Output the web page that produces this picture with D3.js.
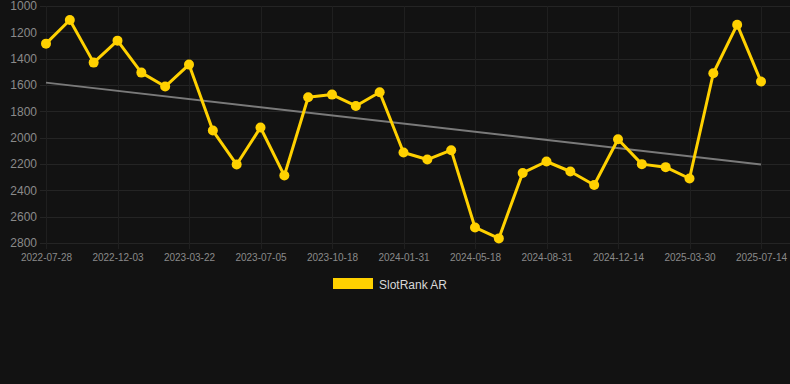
<!DOCTYPE html>
<html><head><meta charset="utf-8">
<script src="https://cdn.jsdelivr.net/npm/d3@7"></script>
<style>html,body{margin:0;padding:0;background:#121212;}svg{display:block;}</style>
</head><body><svg id="c" width="790" height="384"></svg>
<script>
const categories = ["2022-07-28","2022-09-09","2022-10-21","2022-12-03","2023-01-08","2023-02-14","2023-03-22","2023-04-26","2023-05-31","2023-07-05","2023-08-09","2023-09-13","2023-10-18","2023-11-22","2023-12-27","2024-01-31","2024-03-06","2024-04-12","2024-05-18","2024-06-22","2024-07-27","2024-08-31","2024-10-05","2024-11-09","2024-12-14","2025-01-18","2025-02-22","2025-03-30","2025-05-04","2025-06-08","2025-07-14"];
const rankValues = [1286,1106,1430,1263,1506,1612,1445,1946,2204,1923,2288,1693,1673,1759,1655,2113,2166,2095,2682,2765,2268,2181,2257,2360,2012,2201,2224,2310,1511,1142,1574];
const trendValues = [1582,2204];
const yTicks = [1000,1200,1400,1600,1800,2000,2200,2400,2600,2800];
const xTickLabels = ["2022-07-28","2022-12-03","2023-03-22","2023-07-05","2023-10-18","2024-01-31","2024-05-18","2024-08-31","2024-12-14","2025-03-30","2025-07-14"];
const seriesName = "SlotRank AR";

const svg = d3.select("#c");
const W = 790, H = 384;
svg.append("rect").attr("width",W).attr("height",H).attr("fill","#121212");
const mLeft = 46, mRight = 761, mTop = 6, mBottom = 243;
const x = d3.scalePoint().domain(categories).range([mLeft,mRight]);
const y = d3.scaleLinear().domain([1000,2800]).range([mTop,mBottom]);

const grid = svg.append("g");
grid.selectAll("line.h").data(yTicks).join("line")
  .attr("x1",40).attr("x2",W).attr("y1",d=>Math.round(y(d))+0.5).attr("y2",d=>Math.round(y(d))+0.5)
  .attr("stroke","#242424").attr("stroke-width",1);
grid.selectAll("line.v").data(xTickLabels).join("line")
  .attr("x1",d=>Math.round(x(d))+0.5).attr("x2",d=>Math.round(x(d))+0.5).attr("y1",mTop).attr("y2",mBottom+6)
  .attr("stroke","#1f1f1f").attr("stroke-width",1);

const yAxis = d3.axisLeft(y).tickValues(yTicks).tickSize(0).tickPadding(0).tickFormat(d3.format("d"));
const ya = svg.append("g").attr("transform","translate(37,0)").call(yAxis);
ya.select(".domain").remove();
ya.selectAll("text").attr("fill","#8a8a8a").style("font-family","Arial, Liberation Sans, sans-serif").style("font-size","12px");

const xAxis = d3.axisBottom(x).tickValues(xTickLabels).tickSize(0).tickPadding(0);
const xa = svg.append("g").attr("transform",`translate(0,${mBottom+11})`).call(xAxis);
xa.select(".domain").remove();
xa.selectAll("text").attr("fill","#8a8a8a").attr("dy","0.71em").style("font-family","Arial, Liberation Sans, sans-serif").style("font-size","10px");

svg.append("line")
  .attr("x1",x(categories[0])).attr("x2",x(categories[categories.length-1]))
  .attr("y1",y(trendValues[0])).attr("y2",y(trendValues[1]))
  .attr("stroke","#7a7a7a").attr("stroke-width",2);

const line = d3.line().x((d,i)=>x(categories[i])).y(d=>y(d));
svg.append("path").datum(rankValues).attr("d",line)
  .attr("fill","none").attr("stroke","#FFD100").attr("stroke-width",3).attr("stroke-linejoin","round");
svg.selectAll("circle.p").data(rankValues).join("circle")
  .attr("cx",(d,i)=>x(categories[i])).attr("cy",d=>y(d)).attr("r",5).attr("fill","#FFD100");

const lg = svg.append("g");
lg.append("rect").attr("x",333).attr("y",278).attr("width",40).attr("height",11).attr("fill","#FFD100");
lg.append("text").attr("x",379).attr("y",288.5).text(seriesName)
  .attr("fill","#d8d8d8").style("font-family","Arial, Liberation Sans, sans-serif").style("font-size","12px");
</script></body></html>
